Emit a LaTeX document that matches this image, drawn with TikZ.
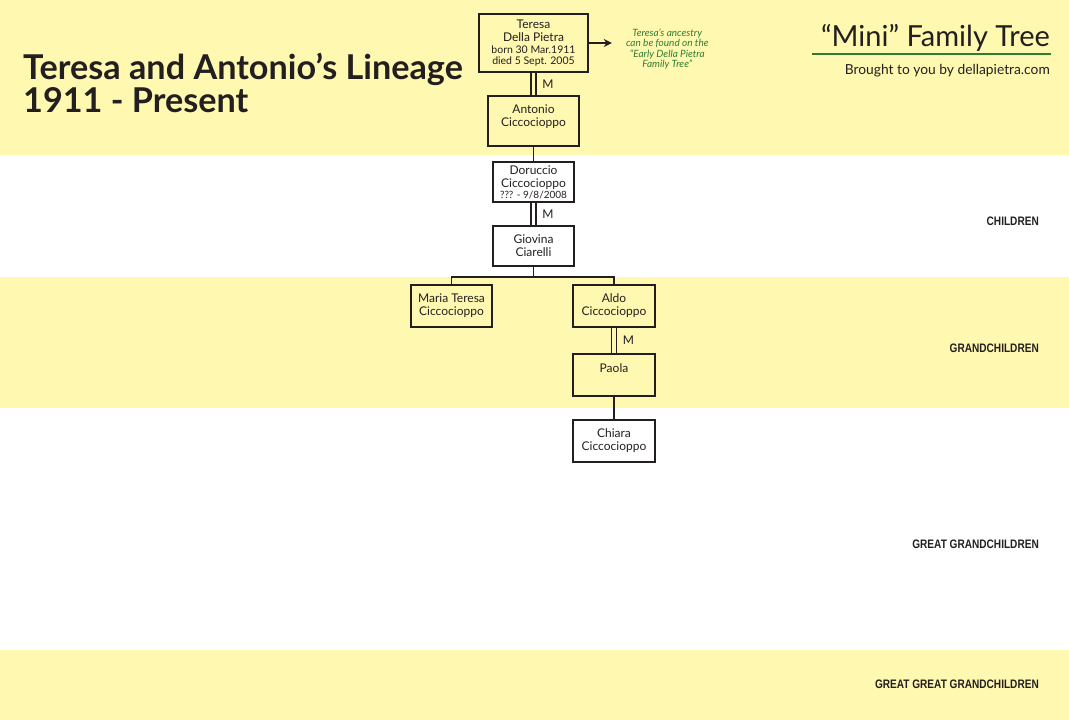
\documentclass[tikz,border=0pt]{standalone}
\usepackage{fontspec}
\setmainfont{Lato}
\newfontfamily\tierfont[FakeStretch=0.82]{Liberation Sans}
\usepackage{xcolor}
\usetikzlibrary{arrows.meta,positioning,calc}

\definecolor{bandyellow}{HTML}{FFF8B0}
\definecolor{inkdark}{HTML}{231F20}
\definecolor{treegreen}{HTML}{2E7D32}

\tikzset{
  person/.style={draw=inkdark, line width=1.6pt, align=center, inner sep=0pt,
    font=\fontsize{12}{13}\selectfont, text=inkdark},
  wed/.style={draw=inkdark, line width=1.6pt, double=#1, double distance=3.6pt},
  kin/.style={draw=inkdark, line width=1.6pt},
  mlabel/.style={font=\fontsize{12}{13}\selectfont, text=inkdark, inner sep=0pt},
  tier/.style={font=\tierfont\bfseries\fontsize{12.3}{14}\selectfont, text=inkdark, anchor=east, inner sep=0pt}
}

\begin{document}
\begin{tikzpicture}[x=1pt, y=-1pt]
        \useasboundingbox (0,0) rectangle (1069,720);
        % faixas
        \foreach \ya/\yb in {0/155, 277/408, 650/720} {
          \fill[bandyellow] (0,\ya) rectangle (1069,\yb);
        }
        % rotulos das geracoes
        \foreach \y/\txt in {221/CHILDREN, 348/GRANDCHILDREN, 544/GREAT GRANDCHILDREN, 684/GREAT GREAT GRANDCHILDREN} {
          \node[tier] (tier\y) at (1039,\y) {\txt};
        }
        % titulo
        \node[anchor=west, align=left, inner sep=0pt, text=inkdark,
          font=\bfseries\fontsize{34.2}{33}\selectfont] (title) at (23,82.5)
          {Teresa and Antonio’s Lineage\\1911 - Present};
        \node[anchor=east, inner sep=0pt, text=inkdark, font=\fontsize{29}{31}\selectfont]
          (mini) at (1050,38) {“Mini” Family Tree};
        \draw[treegreen, line width=2pt] (812,53.5) coordinate (ga) -- (1051,53.5) coordinate (gb);
        \node[anchor=east, inner sep=0pt, text=inkdark, font=\fontsize{13.8}{15}\selectfont]
          (brought) at (1050,71) {Brought to you by dellapietra.com};
        % pessoas
        \node[person, minimum width=109pt, minimum height=58pt] (teresa) at (533.5,43)
          {Teresa\\Della Pietra\\[-1pt]{\fontsize{10.5}{11}\selectfont born 30 Mar.1911}\\[-2pt]{\fontsize{10.5}{11}\selectfont died 5 Sept. 2005}};
        \node[person, minimum width=91pt, minimum height=50pt] (antonio) at (533.5,121)
          {Antonio\\Ciccocioppo\\[-2pt]\mbox{}};
        \node[person, minimum width=81pt, minimum height=40pt] (doruccio) at (533.5,182)
          {Doruccio\\Ciccocioppo\\[-2pt]{\fontsize{10}{10}\selectfont ??? - 9/8/2008}};
        \node[person, minimum width=81pt, minimum height=40pt] (giovina) at (533.5,246)
          {Giovina\\Ciarelli};
        \node[person, minimum width=81pt, minimum height=42pt] (maria) at (451.5,306)
          {Maria Teresa\\Ciccocioppo};
        \node[person, minimum width=82pt, minimum height=42pt] (aldo) at (614,306)
          {Aldo\\Ciccocioppo};
        \node[person, minimum width=82pt, minimum height=42pt] (paola) at (614,375)
          {Paola\\\mbox{}};
        \node[person, minimum width=82pt, minimum height=42pt] (chiara) at (614,441)
          {Chiara\\Ciccocioppo};
        % casamentos
        \draw[wed=bandyellow] (teresa.south) -- (antonio.north)
          node[mlabel, midway, right=8pt] (m1) {M};
        \draw[wed=white] (doruccio.south) -- (giovina.north)
          node[mlabel, midway, right=8pt] (m2) {M};
        \draw[wed=bandyellow] (aldo.south) -- (paola.north)
          node[mlabel, midway, right=8pt] (m3) {M};
        % filhos
        \draw[kin] (antonio.south) -- (doruccio.north);
        \draw[kin] (giovina.south) -- ++(0,10) coordinate (fork);
        \draw[kin] (maria.north) |- (fork) -| (aldo.north);
        \draw[kin] (paola.south) -- (chiara.north);
        % nota
        \draw[kin, -{Stealth[length=8pt, width=8pt]}] (teresa.east) -- ++(23,0) coordinate (tip);
        \node[right=14pt of tip, yshift=-6pt, align=center, inner sep=0pt, text=treegreen,
          font=\itshape\fontsize{10}{10.5}\selectfont] (note)
          {Teresa’s ancestry\\can be found on the\\“Early Della Pietra\\Family Tree”};
      \end{tikzpicture}
\end{document}
